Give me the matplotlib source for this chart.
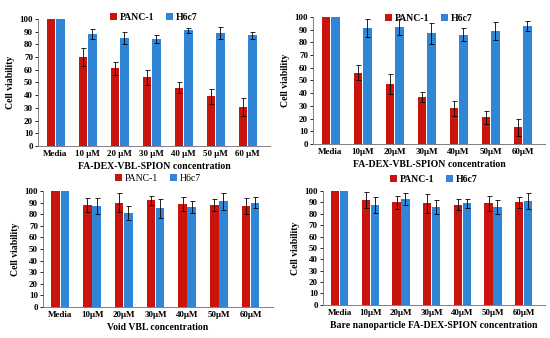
import matplotlib
matplotlib.use("Agg")
import matplotlib.pyplot as plt
import numpy as np

plt.rcParams['font.family'] = ['Liberation Serif', 'DejaVu Serif']
plt.rcParams['font.weight'] = 'bold'

labels_a = ["Media", "10 μM", "20 μM", "30 μM", "40 μM", "50 μM", "60 μM"]
labels_b = ["Media", "10μM", "20μM", "30μM", "40μM", "50μM", "60μM"]

p1_panc = [100, 70, 61, 54, 46, 39, 31]
p1_panc_err = [0, 7, 5, 6, 4, 6, 7]
p1_h6 = [100, 88, 85, 84, 91, 89, 87]
p1_h6_err = [0, 4, 5, 3, 2, 5, 3]

p2_panc = [100, 56, 47, 37, 28, 21, 13]
p2_panc_err = [0, 6, 8, 4, 6, 5, 7]
p2_h6 = [100, 91, 92, 87, 86, 89, 93]
p2_h6_err = [0, 7, 6, 8, 5, 7, 4]

p3_panc = [100, 88, 90, 92, 89, 88, 87]
p3_panc_err = [0, 6, 8, 4, 6, 5, 7]
p3_h6 = [100, 87, 81, 85, 86, 91, 90]
p3_h6_err = [0, 7, 6, 8, 5, 7, 5]

p4_panc = [100, 92, 90, 89, 88, 89, 90]
p4_panc_err = [0, 7, 6, 8, 5, 7, 5]
p4_h6 = [100, 88, 93, 86, 89, 86, 91]
p4_h6_err = [0, 7, 5, 6, 4, 6, 7]

xlabels = ["FA-DEX-VBL-SPION concentration", "FA-DEX-VBL-SPION concentration",
           "Void VBL concentration", "Bare nanoparticle FA-DEX-SPION concentration"]

RED = "#C8140C"
BLUE = "#2F86D6"

fig = plt.figure(figsize=(5.5, 3.38), dpi=100)

rects = [
    [0.069, 0.568, 0.422, 0.376],
    [0.569, 0.574, 0.422, 0.376],
    [0.078, 0.092, 0.418, 0.343],
    [0.587, 0.098, 0.404, 0.337],
]
leg_y = [0.93, 0.91, 1.02, 1.01]
leg_w = ['bold', 'bold', 'normal', 'bold']
data = [
    (labels_a, p1_panc, p1_panc_err, p1_h6, p1_h6_err),
    (labels_b, p2_panc, p2_panc_err, p2_h6, p2_h6_err),
    (labels_b, p3_panc, p3_panc_err, p3_h6, p3_h6_err),
    (labels_b, p4_panc, p4_panc_err, p4_h6, p4_h6_err),
]
fs = 6.5
for i, (rect, (labs, pv, pe, hv, he)) in enumerate(zip(rects, data)):
    ax = fig.add_axes(rect)
    x = np.arange(len(labs))
    w = 0.27
    ax.bar(x - w / 2 - 0.01, pv, w, color=RED, label="PANC-1", clip_on=False, zorder=2)
    ax.bar(x + w / 2 + 0.01, hv, w, color=BLUE, label="H6c7", clip_on=False, zorder=2)
    ekw = dict(fmt='none', ecolor='black', elinewidth=0.6, capsize=1.8, capthick=0.6, zorder=3, clip_on=False)
    ax.errorbar(x[1:] - w / 2 - 0.01, pv[1:], yerr=pe[1:], **ekw)
    ax.errorbar(x[1:] + w / 2 + 0.01, hv[1:], yerr=he[1:], **ekw)
    ax.set_ylim(0, 100)
    ax.set_yticks(range(0, 101, 10))
    ax.set_xlim(-0.55, 6.7)
    ax.set_xticks(x)
    ax.set_xticklabels(labs, fontsize=fs, fontweight='bold')
    ax.tick_params(axis='y', labelsize=fs, length=2, width=0.6, pad=1.5)
    ax.tick_params(axis='x', length=0, pad=3)
    for s in ['top', 'right']:
        ax.spines[s].set_visible(False)
    for s in ['left', 'bottom']:
        ax.spines[s].set_color('#808080')
        ax.spines[s].set_linewidth(0.7)
    ax.set_ylabel("Cell viability", fontsize=fs + 0.5, fontweight='bold', labelpad=3)
    ax.set_xlabel(xlabels[i], fontsize=fs + 0.5, fontweight='bold', labelpad=3)
    ax.legend(loc='lower center', bbox_to_anchor=(0.5, leg_y[i]), ncol=2, frameon=False,
              prop={'size': fs + 0.5, 'weight': leg_w[i]},
              handlelength=0.7, handleheight=0.7, handletextpad=0.3,
              columnspacing=1.2, borderpad=0.1)

fig.savefig("out.png", dpi=100)
